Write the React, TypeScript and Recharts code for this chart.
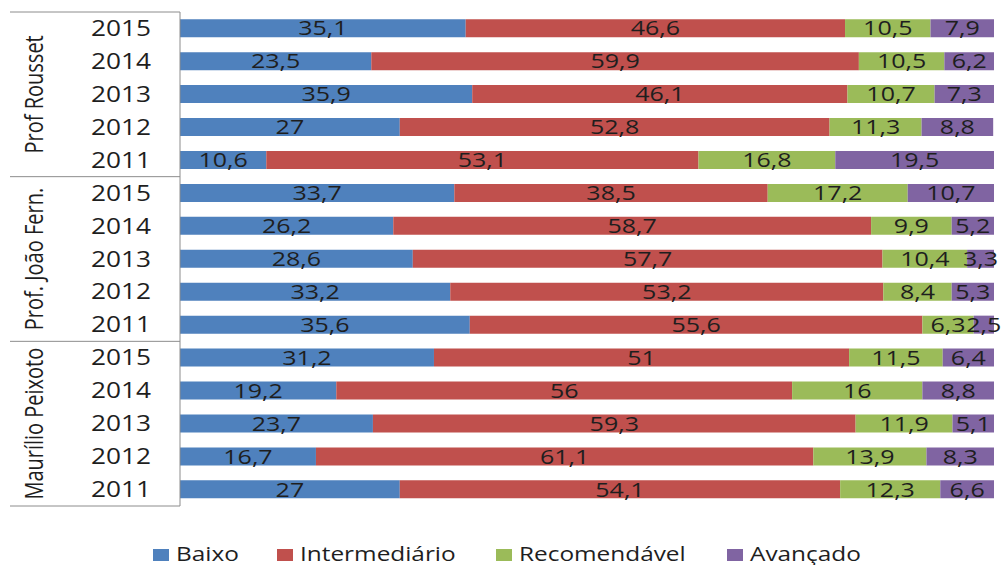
import { BarChart, Bar, XAxis, YAxis, LabelList } from "recharts";

const schools = ["Prof Rousset", "Prof. João Fern.", "Maurílio Peixoto"];
const years = ["2015", "2014", "2013", "2012", "2011"];

// one entry per row, top to bottom
const baixo = [35.1, 23.5, 35.9, 27, 10.6, 33.7, 26.2, 28.6, 33.2, 35.6, 31.2, 19.2, 23.7, 16.7, 27];
const intermediario = [46.6, 59.9, 46.1, 52.8, 53.1, 38.5, 58.7, 57.7, 53.2, 55.6, 51, 56, 59.3, 61.1, 54.1];
const recomendavel = [10.5, 10.5, 10.7, 11.3, 16.8, 17.2, 9.9, 10.4, 8.4, 6.3, 11.5, 16, 11.9, 13.9, 12.3];
const avancado = [7.9, 6.2, 7.3, 8.8, 19.5, 10.7, 5.2, 3.3, 5.3, 2.5, 6.4, 8.8, 5.1, 8.3, 6.6];

const series = [
  { key: "baixo", name: "Baixo", color: "#4F81BD" },
  { key: "intermediario", name: "Intermediário", color: "#C0504D" },
  { key: "recomendavel", name: "Recomendável", color: "#9BBB59" },
  { key: "avancado", name: "Avançado", color: "#8064A2" },
];

const data = schools.flatMap((school, si) =>
  years.map((year, yi) => {
    const i = si * years.length + yi;
    return {
      key: `${school}-${year}`,
      baixo: baixo[i],
      intermediario: intermediario[i],
      recomendavel: recomendavel[i],
      avancado: avancado[i],
    };
  })
);

const W = 1001;
const H = 565;
const FONT = "'Open Sans', sans-serif";
const TEXT = "#1e1e1e";
const SX = 1.25; // the original text is stretched sideways
const AXIS = "#8c8c8c";
const margin = { top: 12, right: 7, left: 0, bottom: 59 };
const Y_W = 180;

const plotTop = margin.top;
const plotBottom = H - margin.bottom;
const band = (plotBottom - plotTop) / data.length;

const fmt = (v: any) => String(v).replace(".", ",");

const YearTick = ({ y, payload }: any) => (
  <text
    transform={`translate(151,${y}) scale(${SX},1)`}
    textAnchor="end"
    dy="0.36em"
    fontSize={21}
    fontFamily={FONT}
    fill={TEXT}
  >
    {String(payload.value).split("-").pop()}
  </text>
);

const ValueLabel = (props: any) => {
  const vb = props.viewBox || props;
  const x = vb.x ?? props.x;
  const y = vb.y ?? props.y;
  const w = vb.width ?? props.width;
  const h = vb.height ?? props.height;
  return (
    <text
      transform={`translate(${x + w / 2},${y + h / 2}) scale(${SX},1)`}
      textAnchor="middle"
      dy="0.36em"
      fontSize={20}
      fontFamily={FONT}
      fill={TEXT}
    >
      {fmt(props.value)}
    </text>
  );
};

// legend row, under the plot
const legendX = [153, 277, 496, 727];
const LEGEND_BASE = 561;

export default function App() {
  return (
    <div style={{ position: "absolute", left: 0, top: 0, width: W, height: H, background: "#fff" }}>
      <BarChart
        width={W}
        height={H}
        data={data}
        layout="vertical"
        margin={margin}
        barCategoryGap="22%"
      >
        <XAxis type="number" domain={[0, 100]} allowDataOverflow hide />
        <YAxis
          type="category"
          dataKey="key"
          width={Y_W}
          tickLine={false}
          axisLine={{ stroke: AXIS }}
          tick={YearTick}
          interval={0}
        />
        {series.map((s) => (
          <Bar key={s.key} dataKey={s.key} name={s.name} stackId="a" fill={s.color} isAnimationActive={false}>
            <LabelList dataKey={s.key} position="center" content={ValueLabel} />
          </Bar>
        ))}
      </BarChart>
      <svg
        width={W}
        height={H}
        style={{ position: "absolute", left: 0, top: 0, pointerEvents: "none" }}
      >
        {[0, 1, 2, 3].map((g) => (
          <line
            key={g}
            x1={10}
            x2={Y_W}
            y1={plotTop + g * years.length * band}
            y2={plotTop + g * years.length * band}
            stroke={AXIS}
          />
        ))}
        {schools.map((s, g) => (
          <text
            key={s}
            transform={`translate(34,${plotTop + (g + 0.5) * years.length * band}) scale(${SX},1) rotate(-90)`}
            textAnchor="middle"
            dy="0.36em"
            fontSize={20}
            fontFamily={FONT}
            fill={TEXT}
          >
            {s}
          </text>
        ))}
        {series.map((s, i) => (
          <g key={s.key}>
            <rect x={legendX[i]} y={LEGEND_BASE - 12} width={16} height={12} fill={s.color} />
            <text
              transform={`translate(${legendX[i] + 23},${LEGEND_BASE}) scale(${SX},1)`}
              fontSize={19.5}
              fontFamily={FONT}
              fill={TEXT}
            >
              {s.name}
            </text>
          </g>
        ))}
      </svg>
    </div>
  );
}
